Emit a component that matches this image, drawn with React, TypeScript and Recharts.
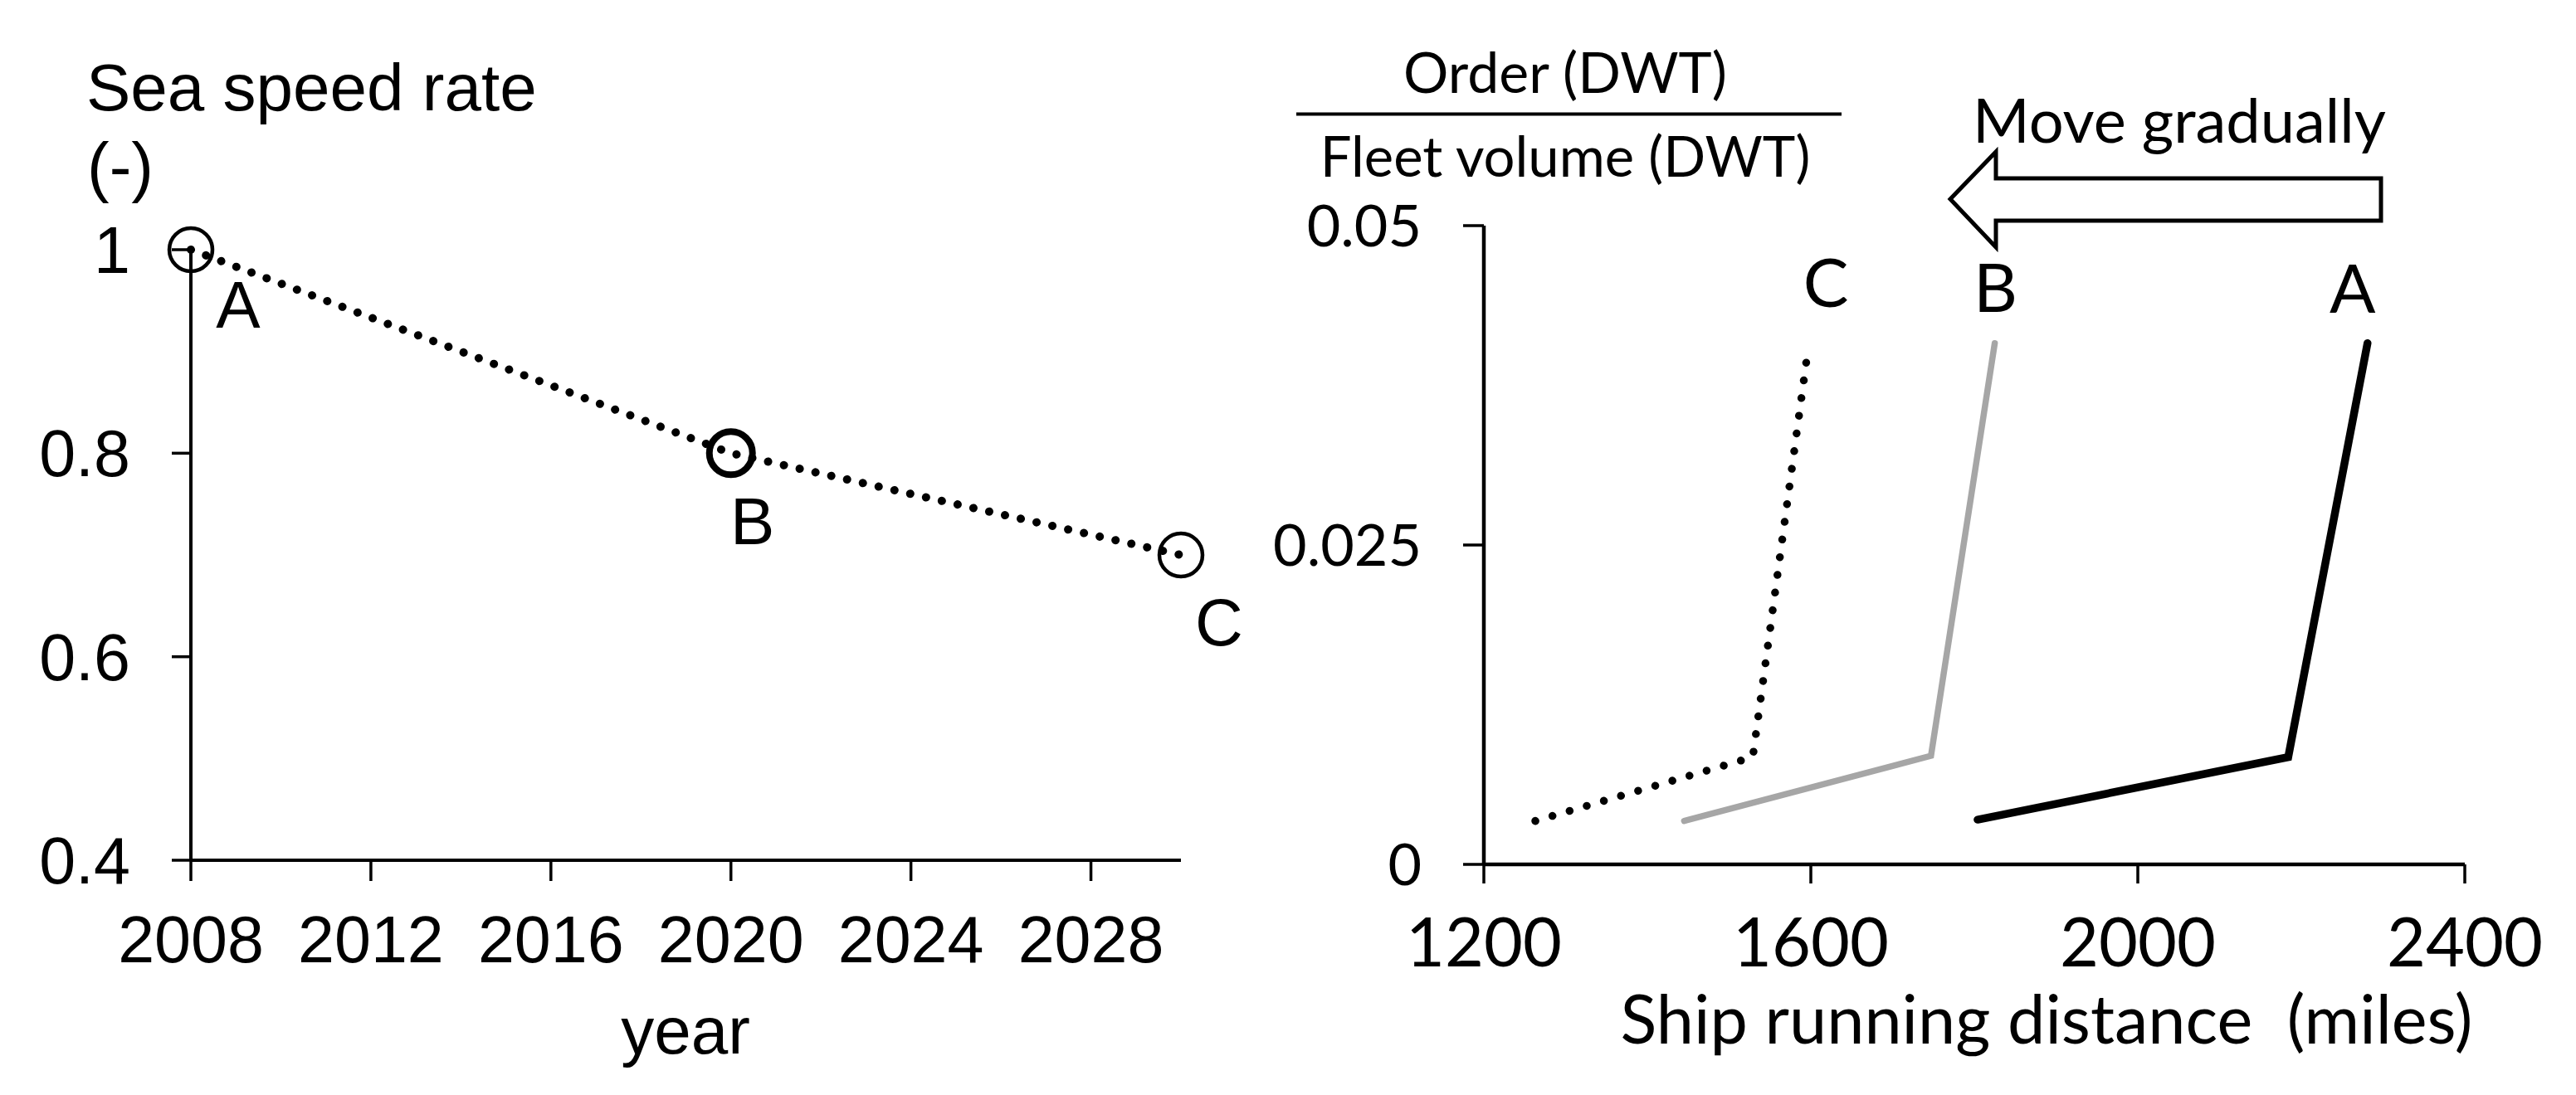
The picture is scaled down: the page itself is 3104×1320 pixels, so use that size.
import React from 'react';
import { LineChart, Line, XAxis, YAxis } from 'recharts';

// left panel: sea speed rate by year
const years = [2008, 2020, 2030];
const speedRates = [1, 0.8, 0.7];
const pointNames = ['A', 'B', 'C'];
const yearTicks = [2008, 2012, 2016, 2020, 2024, 2028];
const rateTicks = [0.4, 0.6, 0.8, 1];

// right panel: order / fleet volume vs running distance
const distA = [1804, 2184, 2281];
const ratioA = [0.0035, 0.0084, 0.0408];
const distB = [1445, 1747, 1825];
const ratioB = [0.0034, 0.0085, 0.0408];
const distC = [1263, 1529, 1595];
const ratioC = [0.0034, 0.0084, 0.0396];
const distTicks = [1200, 1600, 2000, 2400];
const ratioTicks = [0, 0.025, 0.05];

const speedData = years.map((year, i) => ({ year, rate: speedRates[i], name: pointNames[i] }));
const toRows = (xs: number[], ys: number[]) => xs.map((x, i) => ({ dist: x, ratio: ys[i] }));
const seriesA = toRows(distA, ratioA);
const seriesB = toRows(distB, ratioB);
const seriesC = toRows(distC, ratioC);

const ARIAL = "'Liberation Sans', Arial, sans-serif";
const CALIBRI = "Lato, 'Open Sans', sans-serif";

// label offsets from the data point (centre of letter)
const leftLabelOffsets = [[57, 65], [26, 81], [46, 80]];

const App: React.FC = () => {
  const renderSpeedDot = (props: any) => {
    const { cx, cy, index } = props;
    return (
      <circle
        key={`dot-${index}`}
        cx={cx}
        cy={cy}
        r={26}
        fill="none"
        stroke="#000"
        strokeWidth={index === 1 ? 8 : 4.5}
      />
    );
  };

  const renderSpeedLabel = (props: any) => {
    const { x, y, index } = props;
    const [dx, dy] = leftLabelOffsets[index];
    return (
      <text key={`lbl-${index}`} x={x + dx} y={y + dy + 29} textAnchor="middle" fontSize={80} fontFamily={ARIAL} fill="#000">
        {pointNames[index]}
      </text>
    );
  };

  const endLabel = (name: string, dx: number, dy: number) => (props: any) => {
    const { x, y, index } = props;
    if (index !== 2) return <g key={`e-${name}-${index}`} />;
    return (
      <text key={`e-${name}-${index}`} x={x + dx} y={y + dy + 29} textAnchor="middle" fontSize={82} fontFamily={CALIBRI} fill="#000">
        {name}
      </text>
    );
  };

  return (
    <div style={{ position: 'absolute', left: 0, top: 0, width: 3104, height: 1320, background: '#fff' }}>
      {/* Left: Sea speed rate */}
      <div style={{ position: 'absolute', left: 0, top: 0 }}>
        <LineChart width={1500} height={1320} data={speedData} margin={{ top: 301, right: 77, bottom: 163, left: 50 }}>
          <XAxis
            type="number"
            dataKey="year"
            domain={[2008, 2030]}
            ticks={yearTicks}
            height={120}
            tickSize={25}
            tickMargin={42}
            axisLine={{ stroke: '#000', strokeWidth: 4 }}
            tickLine={{ stroke: '#000', strokeWidth: 3.5 }}
            tick={{ fill: '#000', fontSize: 79, fontFamily: ARIAL }}
            interval={0}
          />
          <YAxis
            type="number"
            domain={[0.4, 1]}
            ticks={rateTicks}
            width={180}
            tickSize={23}
            tickMargin={50}
            axisLine={{ stroke: '#000', strokeWidth: 4 }}
            tickLine={{ stroke: '#000', strokeWidth: 3.5 }}
            tick={{ fill: '#000', fontSize: 79, fontFamily: ARIAL }}
            interval={0}
          />
          <Line
            type="linear"
            dataKey="rate"
            stroke="#000"
            strokeWidth={10}
            strokeDasharray="0.01 19.5"
            strokeLinecap="round"
            dot={renderSpeedDot}
            activeDot={false}
            label={renderSpeedLabel}
            isAnimationActive={false}
          />
        </LineChart>
      </div>

      {/* Right: Order / Fleet volume vs distance */}
      <div style={{ position: 'absolute', left: 1500, top: 0 }}>
        <LineChart width={1604} height={1320} margin={{ top: 272, right: 134, bottom: 158, left: 88 }}>
          <XAxis
            type="number"
            dataKey="dist"
            domain={[1200, 2400]}
            ticks={distTicks}
            height={120}
            tickSize={23}
            tickMargin={42}
            axisLine={{ stroke: '#000', strokeWidth: 4.5 }}
            tickLine={{ stroke: '#000', strokeWidth: 3.5 }}
            tick={{ fill: '#000', fontSize: 81, fontFamily: CALIBRI }}
            interval={0}
            allowDuplicatedCategory={false}
          />
          <YAxis
            type="number"
            domain={[0, 0.05]}
            ticks={ratioTicks}
            width={200}
            tickSize={25}
            tickMargin={50}
            axisLine={{ stroke: '#000', strokeWidth: 4.5 }}
            tickLine={{ stroke: '#000', strokeWidth: 3.5 }}
            tick={{ fill: '#000', fontSize: 70, fontFamily: CALIBRI }}
            interval={0}
          />
          <Line
            data={seriesC}
            type="linear"
            dataKey="ratio"
            stroke="#000"
            strokeWidth={9.5}
            strokeDasharray="0.01 21.5"
            strokeLinecap="round"
            dot={false}
            activeDot={false}
            label={endLabel('C', 23, -91)}
            isAnimationActive={false}
          />
          <Line
            data={seriesB}
            type="linear"
            dataKey="ratio"
            stroke="#A6A6A6"
            strokeWidth={7.5}
            strokeLinecap="round"
            dot={false}
            activeDot={false}
            label={endLabel('B', 1, -67)}
            isAnimationActive={false}
          />
          <Line
            data={seriesA}
            type="linear"
            dataKey="ratio"
            stroke="#000"
            strokeWidth={9.5}
            strokeLinecap="round"
            dot={false}
            activeDot={false}
            label={endLabel('A', -18, -66)}
            isAnimationActive={false}
          />
        </LineChart>
      </div>

      {/* titles and annotations */}
      <svg width={3104} height={1320} style={{ position: 'absolute', left: 0, top: 0, pointerEvents: 'none' }}>
        <text x={104} y={133} fontSize={80} fontFamily={ARIAL} fill="#000">Sea speed rate</text>
        <text x={105} y={228} fontSize={80} fontFamily={ARIAL} fill="#000">(-)</text>
        <text x={826} y={1270} fontSize={80} fontFamily={ARIAL} fill="#000" textAnchor="middle">year</text>

        <text x={1886} y={112} fontSize={68} fontFamily={CALIBRI} fill="#000" textAnchor="middle">Order (DWT)</text>
        <line x1={1562} x2={2219} y1={137.5} y2={137.5} stroke="#000" strokeWidth={4} />
        <text x={1886} y={213} fontSize={67} fontFamily={CALIBRI} fill="#000" textAnchor="middle">Fleet volume (DWT)</text>

        <text x={2626} y={172} fontSize={74} fontFamily={CALIBRI} fill="#000" textAnchor="middle">Move gradually</text>
        <polygon
          points="2350,240 2405,183 2405,215 2869,215 2869,266 2405,266 2405,298"
          fill="#fff"
          stroke="#000"
          strokeWidth={5}
          strokeLinejoin="miter"
        />
        <text x={2466} y={1258} fontSize={81} fontFamily={CALIBRI} fill="#000" textAnchor="middle" style={{ whiteSpace: 'pre' }}>
          Ship running distance  (miles)
        </text>
      </svg>
    </div>
  );
};

export default App;
